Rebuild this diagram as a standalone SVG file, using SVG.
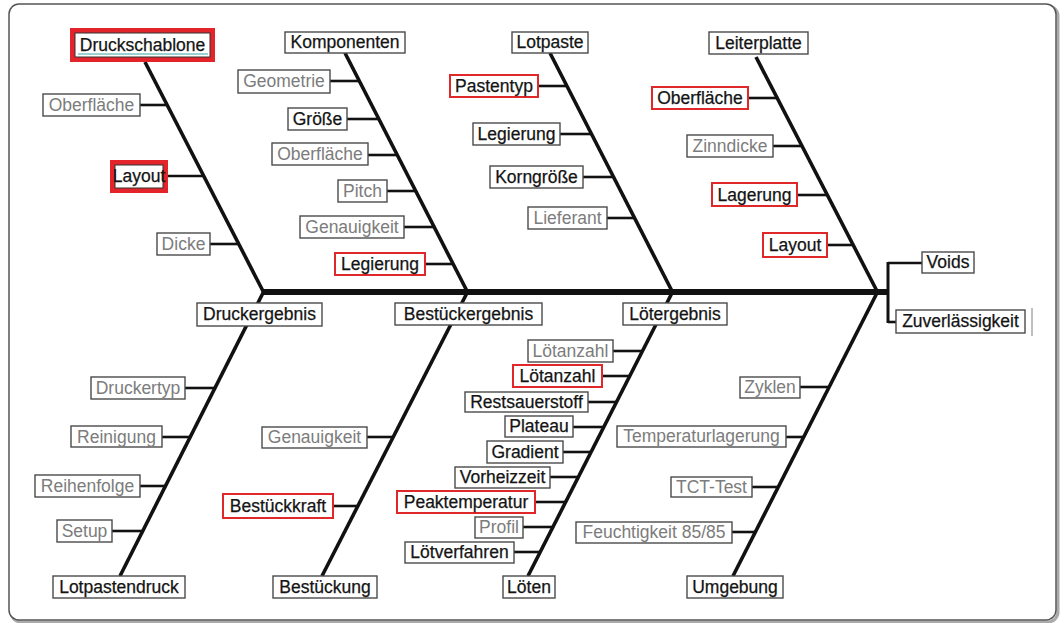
<svg xmlns="http://www.w3.org/2000/svg" width="1064" height="623" viewBox="0 0 1064 623">
<style>
.n rect{fill:#fff;stroke:#4a4a4a;stroke-width:1.4}
.n.red rect{stroke:#e0282b;stroke-width:2}
.n.thick rect.o{fill:none;stroke:#e3242a;stroke-width:5}
.n.thick rect.i{fill:#fff;stroke:#333;stroke-width:1}
.n text{font-family:"Liberation Sans",Arial,sans-serif;font-size:17.5px;text-anchor:middle}
.k text{fill:#141414;stroke:#141414;stroke-width:0.25}
.g text{fill:#7c7c7c}
#connectors line{stroke:#111;stroke-linecap:butt}
.bone{stroke-width:3.6}
.br{stroke-width:2.6}
</style>
<rect x="11" y="6" width="1047" height="616" rx="10" fill="none" stroke="#aaa" stroke-width="3"/>
<rect x="9" y="4" width="1047" height="616" rx="10" fill="#fff" stroke="#555" stroke-width="1.5"/>
<g id="connectors">
<line x1="263" y1="292" x2="889" y2="292" stroke-width="6"/>
<line x1="888" y1="262" x2="888" y2="323" style="stroke-width:3"/>
<line x1="888" y1="263" x2="922" y2="263" class="br"/>
<line x1="888" y1="322" x2="896" y2="322" class="br"/>
<line x1="145" y1="62" x2="264" y2="293" class="bone"/>
<line x1="345" y1="53" x2="468" y2="293" class="bone"/>
<line x1="550" y1="53" x2="673" y2="293" class="bone"/>
<line x1="756" y1="57" x2="878" y2="293" class="bone"/>
<line x1="264" y1="291" x2="120" y2="576" class="bone"/>
<line x1="468" y1="291" x2="322" y2="576" class="bone"/>
<line x1="673" y1="291" x2="528" y2="576" class="bone"/>
<line x1="878" y1="291" x2="733" y2="576" class="bone"/>
<line x1="140" y1="105" x2="167.4" y2="105" class="br"/>
<line x1="168" y1="176" x2="204.5" y2="176" class="br"/>
<line x1="210" y1="244" x2="240" y2="244" class="br"/>
<line x1="330" y1="81" x2="359.3" y2="81" class="br"/>
<line x1="347" y1="119" x2="378.7" y2="119" class="br"/>
<line x1="368" y1="155" x2="397.1" y2="155" class="br"/>
<line x1="387" y1="191" x2="415.4" y2="191" class="br"/>
<line x1="404" y1="227" x2="433.8" y2="227" class="br"/>
<line x1="425" y1="264" x2="452.7" y2="264" class="br"/>
<line x1="538" y1="86" x2="566.8" y2="86" class="br"/>
<line x1="560" y1="134" x2="591.4" y2="134" class="br"/>
<line x1="583" y1="177" x2="613.3" y2="177" class="br"/>
<line x1="607" y1="218" x2="634.2" y2="218" class="br"/>
<line x1="748" y1="98" x2="777.1" y2="98" class="br"/>
<line x1="773" y1="146" x2="801.8" y2="146" class="br"/>
<line x1="797" y1="195" x2="827.1" y2="195" class="br"/>
<line x1="827" y1="245" x2="852.8" y2="245" class="br"/>
<line x1="185" y1="388" x2="214.5" y2="388" class="br"/>
<line x1="162" y1="437" x2="189.7" y2="437" class="br"/>
<line x1="140" y1="486" x2="165" y2="486" class="br"/>
<line x1="112" y1="531" x2="142.2" y2="531" class="br"/>
<line x1="367" y1="437" x2="392.7" y2="437" class="br"/>
<line x1="333" y1="506" x2="357.3" y2="506" class="br"/>
<line x1="613" y1="351" x2="642" y2="351" class="br"/>
<line x1="602" y1="376" x2="629.3" y2="376" class="br"/>
<line x1="588" y1="402" x2="616" y2="402" class="br"/>
<line x1="573" y1="427" x2="603.3" y2="427" class="br"/>
<line x1="563" y1="452" x2="590.6" y2="452" class="br"/>
<line x1="550" y1="477" x2="577.9" y2="477" class="br"/>
<line x1="535" y1="502" x2="565.2" y2="502" class="br"/>
<line x1="523" y1="527" x2="552.4" y2="527" class="br"/>
<line x1="514" y1="552" x2="539.7" y2="552" class="br"/>
<line x1="800" y1="387" x2="828.7" y2="387" class="br"/>
<line x1="786" y1="437" x2="803.2" y2="437" class="br"/>
<line x1="752" y1="487" x2="777.8" y2="487" class="br"/>
<line x1="732" y1="532" x2="754.9" y2="532" class="br"/>
</g>
<line x1="1032" y1="308" x2="1032" y2="336" stroke="#aaa" stroke-width="1.5"/>
<g id="n1" class="n k thick"><rect class="o" x="72.5" y="30.5" width="140" height="29"/><rect class="i" x="75" y="33" width="135" height="24"/><line x1="78" y1="54" x2="208" y2="54" stroke="#3aa3a3" stroke-width="1"/><text x="142.5" y="51">Druckschablone</text></g>
<g id="n2" class="n g"><rect x="43" y="94" width="97" height="22"/><text x="91.5" y="111">Oberfläche</text></g>
<g id="n3" class="n k thick"><rect class="o" x="112.5" y="162.5" width="53" height="28"/><rect class="i" x="115" y="165" width="48" height="23"/><text x="139" y="182">Layout</text></g>
<g id="n4" class="n g"><rect x="157" y="233" width="53" height="22"/><text x="183.5" y="250">Dicke</text></g>
<g id="n5" class="n k"><rect x="285" y="32" width="120" height="21"/><text x="345" y="48">Komponenten</text></g>
<g id="n6" class="n g"><rect x="238" y="70" width="92" height="23"/><text x="284" y="87">Geometrie</text></g>
<g id="n7" class="n k"><rect x="288" y="108" width="59" height="22"/><text x="317.5" y="125">Größe</text></g>
<g id="n8" class="n g"><rect x="272" y="143" width="96" height="22"/><text x="320" y="160">Oberfläche</text></g>
<g id="n9" class="n g"><rect x="338" y="180" width="49" height="22"/><text x="362.5" y="197">Pitch</text></g>
<g id="n10" class="n g"><rect x="300" y="216" width="104" height="22"/><text x="352" y="233">Genauigkeit</text></g>
<g id="n11" class="n k red"><rect x="335" y="253" width="90" height="22"/><text x="380" y="270">Legierung</text></g>
<g id="n12" class="n k"><rect x="512" y="32" width="76" height="21"/><text x="550" y="48">Lotpaste</text></g>
<g id="n13" class="n k red"><rect x="450" y="75" width="88" height="22"/><text x="494" y="92">Pastentyp</text></g>
<g id="n14" class="n k"><rect x="473" y="123" width="87" height="22"/><text x="516.5" y="140">Legierung</text></g>
<g id="n15" class="n k"><rect x="490" y="166" width="93" height="22"/><text x="536.5" y="183">Korngröße</text></g>
<g id="n16" class="n g"><rect x="528" y="207" width="79" height="22"/><text x="567.5" y="224">Lieferant</text></g>
<g id="n17" class="n k"><rect x="709" y="32" width="99" height="22"/><text x="758.5" y="49">Leiterplatte</text></g>
<g id="n18" class="n k red"><rect x="652" y="87" width="96" height="22"/><text x="700" y="104">Oberfläche</text></g>
<g id="n19" class="n g"><rect x="687" y="135" width="86" height="22"/><text x="730" y="152">Zinndicke</text></g>
<g id="n20" class="n k red"><rect x="712" y="183" width="85" height="23"/><text x="754.5" y="201">Lagerung</text></g>
<g id="n21" class="n k red"><rect x="763" y="233" width="64" height="24"/><text x="795" y="251">Layout</text></g>
<g id="n22" class="n k"><rect x="922" y="252" width="52" height="21"/><text x="948" y="268">Voids</text></g>
<g id="n23" class="n k"><rect x="896" y="310" width="129" height="23"/><text x="960.5" y="327">Zuverlässigkeit</text></g>
<g id="n24" class="n k"><rect x="197" y="303" width="125" height="23"/><text x="259.5" y="320">Druckergebnis</text></g>
<g id="n25" class="n g"><rect x="91" y="377" width="94" height="22"/><text x="138" y="394">Druckertyp</text></g>
<g id="n26" class="n g"><rect x="71" y="426" width="91" height="21"/><text x="116.5" y="443">Reinigung</text></g>
<g id="n27" class="n g"><rect x="35" y="475" width="105" height="22"/><text x="87.5" y="492">Reihenfolge</text></g>
<g id="n28" class="n g"><rect x="57" y="520" width="55" height="22"/><text x="84.5" y="537">Setup</text></g>
<g id="n29" class="n k"><rect x="53" y="576" width="132" height="22"/><text x="119" y="593">Lotpastendruck</text></g>
<g id="n30" class="n k"><rect x="395" y="303" width="147" height="22"/><text x="468.5" y="320">Bestückergebnis</text></g>
<g id="n31" class="n g"><rect x="262" y="427" width="105" height="21"/><text x="314.5" y="443">Genauigkeit</text></g>
<g id="n32" class="n k red"><rect x="223" y="494" width="110" height="24"/><text x="278" y="512">Bestückkraft</text></g>
<g id="n33" class="n k"><rect x="273" y="576" width="104" height="22"/><text x="325" y="593">Bestückung</text></g>
<g id="n34" class="n k"><rect x="623" y="303" width="104" height="22"/><text x="675" y="320">Lötergebnis</text></g>
<g id="n35" class="n g"><rect x="528" y="340" width="85" height="22"/><text x="570.5" y="357">Lötanzahl</text></g>
<g id="n36" class="n k red"><rect x="513" y="365" width="89" height="22"/><text x="557.5" y="382">Lötanzahl</text></g>
<g id="n37" class="n k"><rect x="465" y="392" width="123" height="20"/><text x="526.5" y="408">Restsauerstoff</text></g>
<g id="n38" class="n k"><rect x="505" y="416" width="68" height="21"/><text x="539" y="432">Plateau</text></g>
<g id="n39" class="n k"><rect x="487" y="441" width="76" height="22"/><text x="525" y="458">Gradient</text></g>
<g id="n40" class="n k"><rect x="455" y="467" width="95" height="21"/><text x="502.5" y="483">Vorheizzeit</text></g>
<g id="n41" class="n k red"><rect x="397" y="491" width="138" height="22"/><text x="466" y="508">Peaktemperatur</text></g>
<g id="n42" class="n g"><rect x="475" y="517" width="48" height="21"/><text x="499" y="533">Profil</text></g>
<g id="n43" class="n k"><rect x="405" y="542" width="109" height="21"/><text x="459.5" y="558">Lötverfahren</text></g>
<g id="n44" class="n k"><rect x="503" y="576" width="52" height="22"/><text x="529" y="593">Löten</text></g>
<g id="n45" class="n g"><rect x="740" y="377" width="60" height="21"/><text x="770" y="393">Zyklen</text></g>
<g id="n46" class="n g"><rect x="617" y="426" width="169" height="21"/><text x="701.5" y="442">Temperaturlagerung</text></g>
<g id="n47" class="n g"><rect x="671" y="477" width="81" height="20"/><text x="711.5" y="493">TCT-Test</text></g>
<g id="n48" class="n g"><rect x="576" y="522" width="156" height="21"/><text x="654" y="538">Feuchtigkeit 85/85</text></g>
<g id="n49" class="n k"><rect x="687" y="576" width="96" height="22"/><text x="735" y="593">Umgebung</text></g>
</svg>
